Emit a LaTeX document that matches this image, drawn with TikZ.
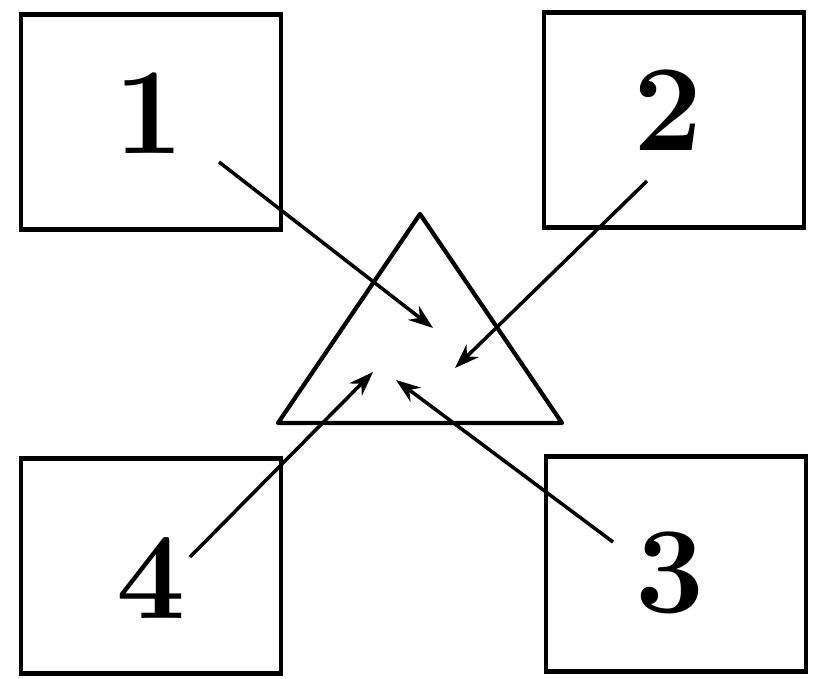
\documentclass[tikz,border=0pt]{standalone}
\usetikzlibrary{arrows.meta}
\tikzset{
  box/.style={draw, line width=2.4pt, minimum width=5.2cm, minimum height=4.3cm, inner sep=0pt},
  digit/.style={font=\fontsize{70}{70}\selectfont\bfseries, inner sep=0pt},
  pointer/.style={line width=2pt, -{Stealth[length=14pt,width=10pt]}}
}
\begin{document}
\begin{tikzpicture}[x=0.02cm, y=-0.02cm]
    \useasboundingbox (0,0) rectangle (819,679);
    % the four boxes
    \node[box] (b1) at (151,122) {};
    \node[box] (b2) at (674,120) {};
    \node[box] (b3) at (676,564) {};
    \node[box] (b4) at (151,566) {};
    \node[digit] (n1) at (149,113) {1};
    \node[digit] (n2) at (668,110) {2};
    \node[digit] (n3) at (670,573) {3};
    \node[digit] (n4) at (151,578) {4};
    % triangle in the middle
    \coordinate (top) at (420,214);
    \coordinate (left) at (278,423);
    \coordinate (right) at (562,423);
    \draw[line width=2.4pt, line join=round] (top) -- (right) -- (left) -- cycle;
    % arrows
    \coordinate (s1) at (219,162);
    \coordinate (s2) at (647,181);
    \coordinate (s3) at (613,542);
    \coordinate (s4) at (190,557);
    \coordinate (e1) at (433,328);
    \coordinate (e2) at (455,368);
    \coordinate (e3) at (396,380);
    \coordinate (e4) at (373,372);
    \draw[pointer] (s1) -- (e1);
    \draw[pointer] (s2) -- (e2);
    \draw[pointer] (s3) -- (e3);
    \draw[pointer] (s4) -- (e4);
\end{tikzpicture}
\end{document}
